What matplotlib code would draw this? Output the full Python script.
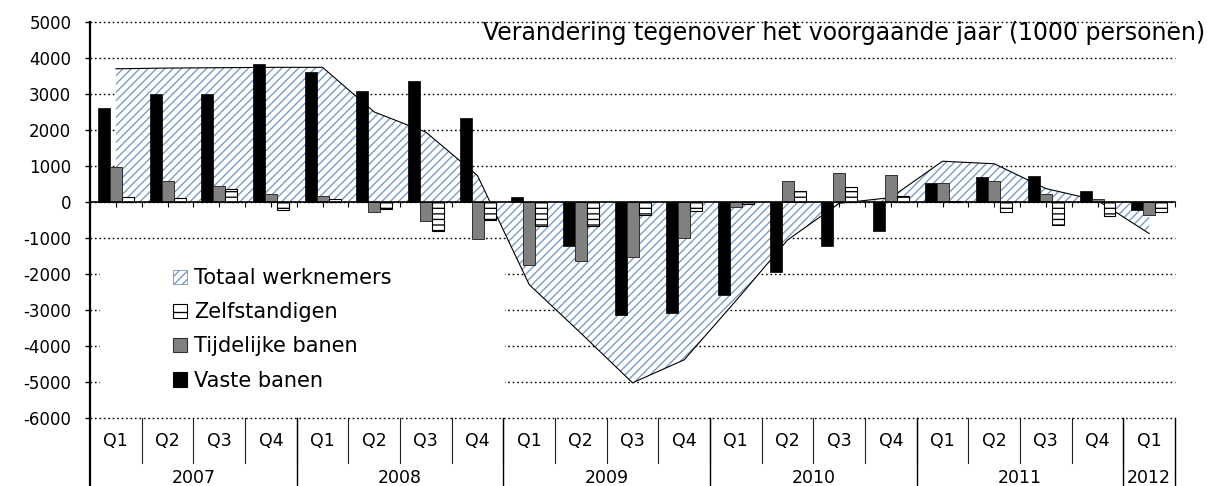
import numpy as np
import matplotlib
matplotlib.use("Agg")
import matplotlib.pyplot as plt
from matplotlib.patches import Patch, Rectangle
from matplotlib.transforms import blended_transform_factory

plt.rcParams['font.family'] = ['DejaVu Sans']
plt.rcParams['axes.unicode_minus'] = False
plt.rcParams['hatch.linewidth'] = 0.95

# ---- data (1000 personen) ----
quarters = ['Q1', 'Q2', 'Q3', 'Q4'] * 5 + ['Q1']
years = ['2007', '2008', '2009', '2010', '2011', '2012']
quarters_per_year = [4, 4, 4, 4, 4, 1]

vaste_banen = [2620, 3000, 3000, 3820, 3600, 3090, 3360, 2340, 140, -1230, -3140,
               -3090, -2580, -1960, -1230, -820, 520, 700, 710, 300, -230]
tijdelijke_banen = [960, 590, 430, 210, 150, -270, -540, -1040, -1750, -1640, -1520,
                    -1010, -140, 580, 790, 740, 520, 570, 230, 90, -370]
zelfstandigen = [130, 120, 360, -220, 90, -200, -800, -500, -670, -670, -370,
                 -260, -50, 300, 400, 150, 20, -290, -640, -380, -280]
totaal_werknemers = [3700, 3720, 3730, 3740, 3740, 2500, 1940, 730, -2300, -3650, -5030,
                     -4390, -2750, -1060, -40, 120, 1130, 1060, 370, 40, -880]

yticks = list(range(-6000, 5001, 1000))
title = 'Verandering tegenover het voorgaande jaar (1000 personen)'
labels = ['Totaal werknemers', 'Zelfstandigen', 'Tijdelijke banen', 'Vaste banen']

HATCH_BLUE = '#7797c4'

fig = plt.figure(figsize=(12.07, 4.86), dpi=100)
ax = fig.add_axes([0.0746, 0.1405, 0.8989, 0.8142])

x = np.arange(len(quarters))
w = 0.232

# area: totaal werknemers
ax.fill_between(x, totaal_werknemers, 0, facecolor='white', edgecolor=HATCH_BLUE,
                hatch='////', linewidth=0, zorder=2)
ax.plot(x, totaal_werknemers, color='black', lw=0.8, zorder=2.5)

# bars
ax.bar(x - w, vaste_banen, w, color='black', edgecolor='black', lw=0.5, zorder=3)
ax.bar(x, tijdelijke_banen, w, color='#808080', edgecolor='#303030', lw=0.7, zorder=3)
ax.bar(x + w, zelfstandigen, w, color='white', edgecolor='black', hatch='---',
       lw=0.8, zorder=3)

ax.set_xlim(-0.5, len(quarters) - 0.5)
ax.set_ylim(yticks[0], yticks[-1])

# y axis
ax.set_yticks(yticks)
ax.set_yticklabels([str(v) for v in yticks], fontsize=12)
ax.tick_params(axis='y', direction='out', length=3.5, width=1.0, pad=10)
ax.set_axisbelow(True)
ax.yaxis.grid(True, linestyle=(0, (1.2, 2.0)), color='black', lw=1.0)
for gl in ax.get_ygridlines():
    gl.set_clip_on(False)

for s in ['top', 'right']:
    ax.spines[s].set_visible(False)
ax.spines['left'].set_linewidth(1.6)
ax.spines['bottom'].set_position(('data', 0))
ax.spines['bottom'].set_linewidth(1.2)
ax.spines['bottom'].set_zorder(4)

ax.set_xticks(np.arange(-0.5, len(quarters) - 0.49, 0.5))
ax.set_xticklabels([])
ax.tick_params(axis='x', direction='out', length=3.5, width=0.8)

# category axis below plot
tr = blended_transform_factory(ax.transData, ax.transAxes)
for i, q in enumerate(quarters):
    ax.text(i, -0.059, q, transform=tr, ha='center', va='center', fontsize=12.5,
            clip_on=False)
for i in range(1, len(quarters)):
    ax.plot([i - 0.5, i - 0.5], [0, -0.1145], transform=tr, color='#202020', lw=0.8,
            clip_on=False)
start = 0
bounds = [-0.5]
for yr, n in zip(years, quarters_per_year):
    center = start + (n - 1) / 2
    ax.text(center, -0.152, yr, transform=tr, ha='center', va='center', fontsize=12.5,
            clip_on=False)
    start += n
    bounds.append(start - 0.5)
for b in bounds:
    ax.plot([b, b], [0, -0.2], transform=tr, color='black', lw=1.0 if b > -0.5 else 1.6,
            clip_on=False)

# legend with white background covering gridlines
ax.add_patch(Rectangle((0.0092, 0.057), 0.373, 0.366, transform=ax.transAxes,
                       facecolor='white', edgecolor='none', zorder=1))
handles = [
    Patch(facecolor='white', edgecolor=HATCH_BLUE, hatch='////', lw=0.6),
    Patch(facecolor='white', edgecolor='black', hatch='--', lw=0.8),
    Patch(facecolor='#808080', edgecolor='#303030', lw=0.8),
    Patch(facecolor='black', edgecolor='black', lw=0.8),
]
leg = ax.legend(handles, labels, loc='upper left', bbox_to_anchor=(0.076, 0.378),
                frameon=False, fontsize=15, borderaxespad=0, borderpad=0,
                handlelength=0.7, handleheight=0.7, handletextpad=0.35,
                labelspacing=0.68)
leg.set_zorder(5)

fig.text(1205 / 1207, 1 - 33 / 486, title, ha='right', va='center', fontsize=17)

fig.savefig('out.png', dpi=100)
